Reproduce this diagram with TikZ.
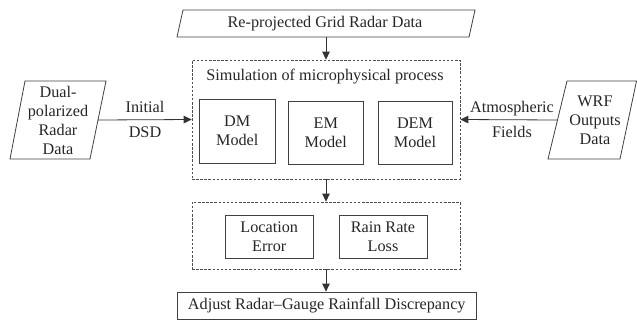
\documentclass[tikz,border=0pt]{standalone}
\usepackage{fontspec}
\setmainfont{Liberation Serif}
\usetikzlibrary{arrows.meta}
\begin{document}
\begin{tikzpicture}[x=1pt,y=-1pt,
  txt/.style={font=\fontsize{16.2}{19}\selectfont, text=black!85, align=center, inner sep=0pt},
  ln/.style={draw=black!75, line width=0.8pt},
  box/.style={ln, rectangle, inner sep=0pt, font=\fontsize{16.2}{19}\selectfont, text=black!85, align=center},
  dbox/.style={draw=black!70, line width=0.7pt, dash pattern=on 2.5pt off 1.6pt, rectangle, inner sep=0pt},
  arr/.style={draw=black!80, line width=0.8pt, -{Triangle[length=8pt,width=7.5pt]}}
]
\useasboundingbox (0,0) rectangle (637,322);

% top parallelogram
\draw[ln] (183,10) -- (475,10) -- (469,37) -- (177,37) -- cycle;
\node[txt] (top) at (325,24) {Re-projected Grid Radar Data};
\coordinate (topB) at (326,37);

% simulation dashed box
\node[dbox, minimum width=268pt, minimum height=119pt] (sim) at (326,119.5) {};
\node[txt] (simt) at (325,77) {Simulation of microphysical process};
\node[box, minimum width=75.5pt, minimum height=64pt] (dm) at (237.25,131) {DM\\Model};
\node[box, minimum width=74.5pt, minimum height=63pt] (em) at (325.75,132.5) {EM\\Model};
\node[box, minimum width=74pt, minimum height=63pt] (dem) at (415,132.5) {DEM\\Model};

% loss dashed box
\node[dbox, minimum width=268pt, minimum height=67pt] (loss) at (326,235.5) {};
\node[box, minimum width=87.5pt, minimum height=43pt] (loc) at (269.25,236.5) {Location\\Error};
\node[box, minimum width=88pt, minimum height=43pt] (rr) at (383,236.5) {Rain Rate\\Loss};

% bottom box
\node[box, minimum width=298.5pt, minimum height=27pt] (adj) at (326.75,305.5) {Adjust Radar--Gauge Rainfall Discrepancy};

% left parallelogram
\draw[ln] (25,81) -- (106,81) -- (90,159) -- (10,159) -- cycle;
\node[txt] (dual) at (58,120) {Dual-\\polarized\\Radar\\Data};
\coordinate (dualR) at (98,120);
\node[txt] (init) at (145,119.5) {Initial\\[6pt]DSD};

% right parallelogram
\draw[ln] (567,81) -- (636.5,81) -- (620,159) -- (548,159) -- cycle;
\node[txt] (wrf) at (595,120) {WRF\\Outputs\\Data};
\coordinate (wrfL) at (557.5,120);
\node[txt] (atm) at (512,119.5) {Atmospheric\\[6pt]Fields};

% arrows
\draw[arr] (topB) -- (sim.north);
\draw[arr] (dualR) -- (sim.west);
\draw[arr] (wrfL) -- (sim.east);
\draw[arr] (sim.south) -- (loss.north);
\draw[arr] (loss.south) -- (loss.south |- adj.north);
\end{tikzpicture}
\end{document}
